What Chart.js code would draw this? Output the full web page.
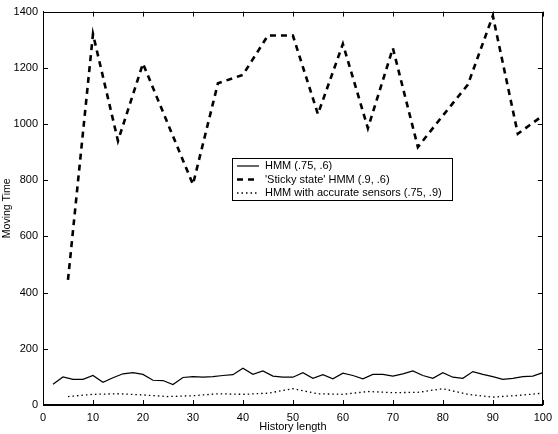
<!DOCTYPE html>
<html>
<head>
<meta charset="utf-8">
<title>Moving time vs history length</title>
<script src="https://cdn.jsdelivr.net/npm/chart.js@4.4.1/dist/chart.umd.min.js"></script>
<style>
  html, body { margin: 0; padding: 0; background: #fff; }
  #wrap { width: 558px; height: 434px; position: relative; }
</style>
</head>
<body>
<div id="wrap"><canvas id="movingChart"></canvas></div>
<script>
// History lengths sampled every 2 (plain HMM) and every 5 (the other two runs)
const lengthsEvery2 = [2, 4, 6, 8, 10, 12, 14, 16, 18, 20, 22, 24, 26, 28, 30, 32, 34, 36, 38, 40,
  42, 44, 46, 48, 50, 52, 54, 56, 58, 60, 62, 64, 66, 68, 70, 72, 74, 76, 78, 80,
  82, 84, 86, 88, 90, 92, 94, 96, 98, 100];
const lengthsEvery5 = [5, 10, 15, 20, 25, 30, 35, 40, 45, 50, 55, 60, 65, 70, 75, 80, 85, 90, 95, 100];

// Moving time
const hmmTimes = [74, 100, 91, 91, 105, 81, 97, 111, 115, 109, 88, 87, 73, 98, 101, 99, 101, 105, 108, 131,
  109, 121, 103, 99, 99, 115, 95, 108, 93, 113, 105, 93, 109, 109, 103, 111, 121, 105, 95, 115,
  99, 95, 119, 109, 101, 91, 95, 101, 103, 115];
const stickyTimes = [445, 1320, 940, 1215, 1000, 785, 1145, 1175, 1315, 1315,
  1035, 1285, 985, 1270, 918, 1030, 1140, 1385, 965, 1030];
const accurateTimes = [30, 38, 40, 36, 30, 33, 40, 38, 42, 58,
  40, 38, 48, 44, 45, 58, 38, 28, 34, 42];

const seriesNames = ["HMM (.75, .6)", "'Sticky state' HMM (.9, .6)", "HMM with accurate sensors (.75, .9)"];

const xTicks = [0, 10, 20, 30, 40, 50, 60, 70, 80, 90, 100];
const yTicks = [0, 200, 400, 600, 800, 1000, 1200, 1400];

const FONT = "'Liberation Sans', Arial, Helvetica, sans-serif";

const toPoints = (xs, ys) => xs.map((x, i) => ({ x, y: ys[i] }));

// Box round the plot with MATLAB-style inward ticks on all four sides
const framePlugin = {
  id: "frame",
  afterDraw(chart) {
    const { ctx, chartArea: a, scales } = chart;
    const len = 5;
    ctx.save();
    ctx.strokeStyle = "#000";
    ctx.lineWidth = 1;
    ctx.strokeRect(Math.round(a.left) + 0.5, Math.round(a.top) + 0.5,
      Math.round(a.width) - 1, Math.round(a.height) - 1);
    ctx.beginPath();
    xTicks.forEach((v) => {
      const px = Math.round(scales.x.getPixelForValue(v)) + 0.5;
      ctx.moveTo(px, a.bottom); ctx.lineTo(px, a.bottom - len);
      ctx.moveTo(px, a.top); ctx.lineTo(px, a.top + len);
    });
    yTicks.forEach((v) => {
      const py = Math.round(scales.y.getPixelForValue(v)) + 0.5;
      ctx.moveTo(a.left, py); ctx.lineTo(a.left + len, py);
      ctx.moveTo(a.right, py); ctx.lineTo(a.right - len, py);
    });
    ctx.stroke();
    ctx.restore();
  },
};

// Legend box sitting inside the plot, as in the original figure
const boxLegendPlugin = {
  id: "boxLegend",
  afterDraw(chart) {
    const { ctx } = chart;
    const left = 232, top = 158, width = 220, height = 42;
    ctx.save();
    ctx.fillStyle = "#fff";
    ctx.fillRect(left, top, width, height);
    ctx.strokeStyle = "#000";
    ctx.lineWidth = 1;
    ctx.strokeRect(left + 0.5, top + 0.5, width, height);
    ctx.font = "11px " + FONT;
    ctx.textBaseline = "middle";
    ctx.fillStyle = "#000";
    chart.data.datasets.forEach((ds, i) => {
      const y = top + 8 + i * 13.5;
      ctx.beginPath();
      ctx.lineWidth = ds.borderWidth;
      ctx.setLineDash(ds.borderDash || []);
      ctx.moveTo(left + 5, y);
      ctx.lineTo(left + 27, y);
      ctx.stroke();
      ctx.setLineDash([]);
      ctx.fillText(ds.label, left + 33, y);
    });
    ctx.restore();
  },
};

const ctx = document.getElementById("movingChart").getContext("2d");

new Chart(ctx, {
  type: "line",
  data: {
    datasets: [
      {
        label: seriesNames[0],
        data: toPoints(lengthsEvery2, hmmTimes),
        borderColor: "#000",
        borderWidth: 1.2,
        pointRadius: 0,
        tension: 0,
      },
      {
        label: seriesNames[1],
        data: toPoints(lengthsEvery5, stickyTimes),
        borderColor: "#000",
        borderWidth: 2.6,
        borderDash: [6, 5],
        pointRadius: 0,
        tension: 0,
      },
      {
        label: seriesNames[2],
        data: toPoints(lengthsEvery5, accurateTimes),
        borderColor: "#000",
        borderWidth: 1.3,
        borderDash: [1.5, 3],
        pointRadius: 0,
        tension: 0,
      },
    ],
  },
  options: {
    responsive: true,
    maintainAspectRatio: false,
    animation: false,
    layout: { padding: { top: 6, right: 10, left: 0, bottom: 0 } },
    plugins: {
      legend: { display: false },
      tooltip: { enabled: false },
    },
    scales: {
      x: {
        type: "linear",
        min: 0,
        max: 100,
        afterBuildTicks: (scale) => { scale.ticks = xTicks.map((v) => ({ value: v })); },
        afterFit: (scale) => { scale.height = 29; },
        grid: { drawOnChartArea: false, drawTicks: false },
        border: { color: "#000" },
        ticks: {
          padding: 6,
          color: "#000",
          font: { family: FONT, size: 11 },
          maxRotation: 0,
          callback: (v) => String(v),
        },
        title: {
          display: true,
          text: "History length",
          color: "#000",
          font: { family: FONT, size: 11 },
          padding: { top: 0, bottom: 0 },
        },
      },
      y: {
        type: "linear",
        min: 0,
        max: 1400,
        afterBuildTicks: (scale) => { scale.ticks = yTicks.map((v) => ({ value: v })); },
        afterFit: (scale) => { scale.width = 43; },
        grid: { drawOnChartArea: false, drawTicks: false },
        border: { color: "#000" },
        ticks: {
          padding: 5,
          color: "#000",
          font: { family: FONT, size: 11 },
          callback: (v) => String(v),
        },
        title: {
          display: true,
          text: "Moving Time",
          color: "#000",
          font: { family: FONT, size: 10.5 },
          padding: { top: 1, bottom: 0 },
        },
      },
    },
  },
  plugins: [framePlugin, boxLegendPlugin],
});
</script>
</body>
</html>
